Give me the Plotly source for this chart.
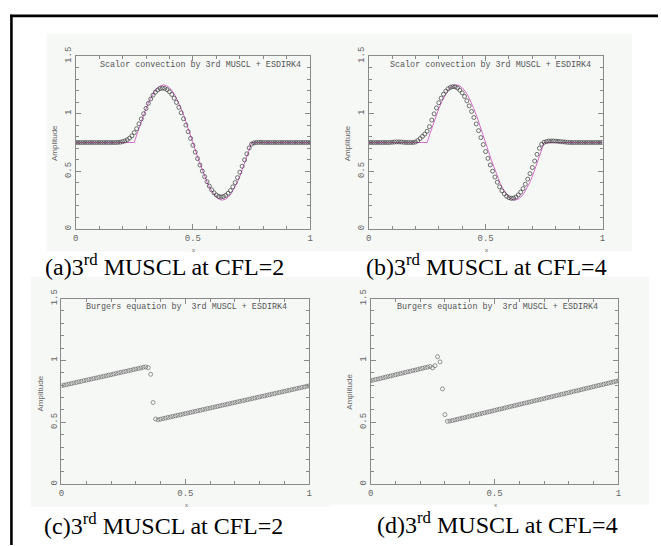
import plotly.graph_objects as go

W, H = 661, 546

# grid of cell centres shared by all four solutions
GRID_X = [0.00, 0.01, 0.02, 0.03, 0.04, 0.05, 0.06, 0.07, 0.08, 0.09,
          0.10, 0.11, 0.12, 0.13, 0.14, 0.15, 0.16, 0.17, 0.18, 0.19,
          0.20, 0.21, 0.22, 0.23, 0.24, 0.25, 0.26, 0.27, 0.28, 0.29,
          0.30, 0.31, 0.32, 0.33, 0.34, 0.35, 0.36, 0.37, 0.38, 0.39,
          0.40, 0.41, 0.42, 0.43, 0.44, 0.45, 0.46, 0.47, 0.48, 0.49,
          0.50, 0.51, 0.52, 0.53, 0.54, 0.55, 0.56, 0.57, 0.58, 0.59,
          0.60, 0.61, 0.62, 0.63, 0.64, 0.65, 0.66, 0.67, 0.68, 0.69,
          0.70, 0.71, 0.72, 0.73, 0.74, 0.75, 0.76, 0.77, 0.78, 0.79,
          0.80, 0.81, 0.82, 0.83, 0.84, 0.85, 0.86, 0.87, 0.88, 0.89,
          0.90, 0.91, 0.92, 0.93, 0.94, 0.95, 0.96, 0.97, 0.98, 0.99,
          1.00]

# exact solution of the scalar convection problem
EXACT_X = [0.0, 0.25, 0.2625, 0.275, 0.2875, 0.3, 0.3125, 0.325, 0.3375, 0.35,
           0.3625, 0.375, 0.3875, 0.4, 0.4125, 0.425, 0.4375, 0.45, 0.4625,
           0.475, 0.4875, 0.5, 0.5125, 0.525, 0.5375, 0.55, 0.5625, 0.575,
           0.5875, 0.6, 0.6125, 0.625, 0.6375, 0.65, 0.6625, 0.675, 0.6875,
           0.7, 0.7125, 0.725, 0.7375, 0.75, 1.0]
EXACT_U = [0.75, 0.75, 0.828, 0.905, 0.977, 1.044, 1.104, 1.155, 1.196, 1.226,
           1.244, 1.25, 1.244, 1.226, 1.196, 1.155, 1.104, 1.044, 0.977,
           0.905, 0.828, 0.75, 0.672, 0.595, 0.523, 0.456, 0.396, 0.345,
           0.304, 0.274, 0.256, 0.25, 0.256, 0.274, 0.304, 0.345, 0.396,
           0.456, 0.523, 0.595, 0.672, 0.75, 0.75]

# scalar convection, 3rd MUSCL + ESDIRK4, CFL = 2
SCALAR_CFL2 = [0.75, 0.75, 0.75, 0.75, 0.75, 0.75, 0.75, 0.75, 0.75, 0.75,
               0.75, 0.75, 0.75, 0.75, 0.75, 0.75, 0.75, 0.75, 0.751, 0.753,
               0.757, 0.764, 0.774, 0.788, 0.808, 0.836, 0.870, 0.912, 0.955, 1.000,
               1.046, 1.090, 1.128, 1.161, 1.187, 1.206, 1.218, 1.222, 1.219, 1.209,
               1.191, 1.167, 1.135, 1.098, 1.055, 1.008, 0.956, 0.901, 0.844, 0.786,
               0.726, 0.667, 0.610, 0.554, 0.502, 0.454, 0.410, 0.372, 0.339, 0.313,
               0.294, 0.282, 0.278, 0.281, 0.291, 0.309, 0.333, 0.365, 0.402, 0.445,
               0.492, 0.544, 0.599, 0.652, 0.703, 0.736, 0.747, 0.750, 0.751, 0.751,
               0.75, 0.75, 0.75, 0.75, 0.75, 0.75, 0.75, 0.75, 0.75, 0.75,
               0.75, 0.75, 0.75, 0.75, 0.75, 0.75, 0.75, 0.75, 0.75, 0.75,
               0.75]

# scalar convection, 3rd MUSCL + ESDIRK4, CFL = 4
SCALAR_CFL4 = [0.75, 0.75, 0.75, 0.75, 0.75, 0.75, 0.75, 0.75, 0.75, 0.75,
               0.752, 0.754, 0.755, 0.755, 0.754, 0.752, 0.750, 0.750, 0.750, 0.750,
               0.754, 0.766, 0.784, 0.803, 0.823, 0.848, 0.888, 0.945, 0.999, 1.050,
               1.095, 1.135, 1.169, 1.196, 1.217, 1.229, 1.235, 1.233, 1.223, 1.205,
               1.181, 1.150, 1.112, 1.068, 1.020, 0.967, 0.911, 0.853, 0.793, 0.732,
               0.671, 0.612, 0.555, 0.501, 0.450, 0.405, 0.365, 0.331, 0.304, 0.283,
               0.271, 0.265, 0.267, 0.277, 0.295, 0.319, 0.350, 0.388, 0.432, 0.480,
               0.533, 0.589, 0.647, 0.700, 0.735, 0.752, 0.758, 0.762, 0.763, 0.763,
               0.762, 0.760, 0.758, 0.756, 0.754, 0.752, 0.75, 0.75, 0.75, 0.75,
               0.75, 0.75, 0.75, 0.75, 0.75, 0.75, 0.75, 0.75, 0.75, 0.75,
               0.75]

# Burgers equation, 3rd MUSCL + ESDIRK4, CFL = 2
BURGERS_CFL2 = [0.795, 0.800, 0.804, 0.809, 0.813, 0.818, 0.822, 0.827, 0.831, 0.836,
                0.840, 0.845, 0.849, 0.854, 0.858, 0.863, 0.867, 0.872, 0.876, 0.881,
                0.885, 0.890, 0.894, 0.899, 0.903, 0.908, 0.912, 0.917, 0.921, 0.926,
                0.930, 0.935, 0.939, 0.944, 0.948, 0.942, 0.888, 0.660, 0.527, 0.520,
                0.525, 0.530, 0.534, 0.539, 0.543, 0.548, 0.552, 0.557, 0.561, 0.566,
                0.570, 0.575, 0.579, 0.584, 0.588, 0.593, 0.597, 0.602, 0.606, 0.611,
                0.615, 0.620, 0.624, 0.629, 0.633, 0.638, 0.642, 0.647, 0.651, 0.656,
                0.660, 0.665, 0.669, 0.674, 0.678, 0.683, 0.687, 0.692, 0.696, 0.701,
                0.705, 0.710, 0.714, 0.719, 0.723, 0.728, 0.732, 0.737, 0.741, 0.746,
                0.750, 0.755, 0.759, 0.764, 0.768, 0.773, 0.777, 0.782, 0.786, 0.791,
                0.795]

# Burgers equation, 3rd MUSCL + ESDIRK4, CFL = 4
BURGERS_CFL4 = [0.836, 0.841, 0.846, 0.850, 0.855, 0.860, 0.865, 0.870, 0.874, 0.879,
                0.884, 0.889, 0.894, 0.898, 0.903, 0.908, 0.913, 0.918, 0.922, 0.927,
                0.932, 0.937, 0.942, 0.946, 0.951, 0.940, 0.958, 1.030, 0.988, 0.770,
                0.562, 0.508, 0.510, 0.514, 0.519, 0.524, 0.529, 0.534, 0.538, 0.543,
                0.548, 0.553, 0.558, 0.562, 0.567, 0.572, 0.577, 0.582, 0.586, 0.591,
                0.596, 0.601, 0.606, 0.610, 0.615, 0.620, 0.625, 0.630, 0.634, 0.639,
                0.644, 0.649, 0.654, 0.658, 0.663, 0.668, 0.673, 0.678, 0.682, 0.687,
                0.692, 0.697, 0.702, 0.706, 0.711, 0.716, 0.721, 0.726, 0.730, 0.735,
                0.740, 0.745, 0.750, 0.754, 0.759, 0.764, 0.769, 0.774, 0.778, 0.783,
                0.788, 0.793, 0.798, 0.802, 0.807, 0.812, 0.817, 0.822, 0.826, 0.831,
                0.836]

TITLES = ["Scalor convection by 3rd MUSCL + ESDIRK4",
          "Scalor convection by 3rd MUSCL + ESDIRK4",
          "Burgers equation by  3rd MUSCL + ESDIRK4",
          "Burgers equation by  3rd MUSCL + ESDIRK4"]
CAPTIONS = ["(a)3<sup>rd</sup> MUSCL at CFL=2",
            "(b)3<sup>rd</sup> MUSCL at CFL=4",
            "(c)3<sup>rd</sup> MUSCL at CFL=2",
            "(d)3<sup>rd</sup> MUSCL at CFL=4"]
X_TICKS = [0, 0.5, 1]
X_TICK_TEXT = ["0", "0.5", "1"]
Y_TICKS = [0, 0.5, 1, 1.5]
Y_TICK_TEXT = ["0", "0.5", "1", "1.5"]


def px(x):
    return x / W


def py(y):
    return 1 - y / H


# plot-area boxes in pixels: left, right, top, bottom
BOXES = [(73.3, 310, 48, 224), (369, 605, 48, 224),
         (59, 309, 295, 484), (371, 621, 295, 484)]
# light scanned-page panels behind each graph: x0, x1, y0, y1
PANELS = [(44, 331, 25, 247), (331, 635, 25, 247),
          (28, 331, 273, 507), (331, 652, 273, 505)]
TITLE_POS = [(199, 57), (492, 57), (185, 304), (499, 304)]
CAPTION_POS = [(163, 261), (488, 261), (162, 525), (499, 524)]
YLABEL_POS = [(52, 137), (348, 137), (38, 392), (350, 390)]
XLABEL_POS = [(192, 245), (488, 245), (185, 505), (497, 505)]

AXIS_GREY = "#8a8a8a"
TEXT_GREY = "#666666"
PINK = "rgb(214,110,205)"

fig = go.Figure()

numeric = [SCALAR_CFL2, SCALAR_CFL4, BURGERS_CFL2, BURGERS_CFL4]
marker_col = ["#3a3a3a", "#3a3a3a", "#6a6a6a", "#6a6a6a"]

for i in range(4):
    xa = "x" if i == 0 else f"x{i + 1}"
    ya = "y" if i == 0 else f"y{i + 1}"
    if i < 2:
        fig.add_trace(go.Scatter(x=EXACT_X, y=EXACT_U, mode="lines",
                                 line=dict(color=PINK, width=1),
                                 xaxis=xa, yaxis=ya, showlegend=False))
    fig.add_trace(go.Scatter(x=GRID_X, y=numeric[i], mode="markers",
                             marker=dict(symbol="circle-open", size=4,
                                         color=marker_col[i],
                                         line=dict(width=0.7, color=marker_col[i])),
                             xaxis=xa, yaxis=ya, showlegend=False))

shapes = []
annotations = []
layout_axes = {}


def note(text, x, y, font, angle=0):
    return dict(text=text, x=px(x), y=py(y), xref="paper", yref="paper",
                xanchor="center", yanchor="middle", showarrow=False,
                textangle=angle, font=font)


for i in range(4):
    l, r, t, b = BOXES[i]
    sx = "" if i == 0 else str(i + 1)
    common = dict(showgrid=False, zeroline=False, showline=True, linecolor=AXIS_GREY,
                  linewidth=1, mirror="allticks", ticks="inside", ticklen=5,
                  tickcolor=AXIS_GREY, tickwidth=1,
                  tickfont=dict(family="Liberation Mono", size=9, color=TEXT_GREY))
    layout_axes[f"xaxis{sx}"] = dict(
        common, domain=[px(l), px(r)], range=[0, 1], anchor=f"y{sx}",
        tickvals=X_TICKS, ticktext=X_TICK_TEXT,
        minor=dict(dtick=0.1, ticklen=3, tickcolor=AXIS_GREY, ticks="inside"))
    layout_axes[f"yaxis{sx}"] = dict(
        common, domain=[py(b), py(t)], range=[0, 1.5], anchor=f"x{sx}",
        tickvals=Y_TICKS, ticktext=Y_TICK_TEXT, tickangle=-90,
        minor=dict(dtick=0.1, ticklen=3, tickcolor=AXIS_GREY, ticks="inside"))

    x0, x1, y0, y1 = PANELS[i]
    shapes.append(dict(type="rect", xref="paper", yref="paper", layer="below",
                       x0=px(x0), x1=px(x1), y0=py(y1), y1=py(y0),
                       fillcolor="rgb(246,248,246)", line=dict(width=0)))

    annotations.append(note(TITLES[i], *TITLE_POS[i],
                            dict(family="Liberation Mono", size=8.4, color="#555555")))
    annotations.append(note(CAPTIONS[i], *CAPTION_POS[i],
                            dict(family="Liberation Serif", size=24, color="black")))
    annotations.append(note("Amplitude", *YLABEL_POS[i],
                            dict(family="Liberation Sans", size=8, color=TEXT_GREY), -90))
    annotations.append(note("x", *XLABEL_POS[i],
                            dict(family="Liberation Sans", size=6, color=TEXT_GREY)))

# page frame lines (left and top rules)
shapes.append(dict(type="line", xref="paper", yref="paper", x0=px(8.5), x1=px(8.5),
                   y0=0, y1=py(5.8), line=dict(color="black", width=2.6)))
shapes.append(dict(type="line", xref="paper", yref="paper", x0=px(7.2), x1=1,
                   y0=py(7), y1=py(7), line=dict(color="black", width=2.6)))

fig.update_layout(width=W, height=H, margin=dict(l=0, r=0, t=0, b=0),
                  paper_bgcolor="white", plot_bgcolor="rgba(0,0,0,0)",
                  shapes=shapes, annotations=annotations, **layout_axes)

fig.write_html("out.html")
